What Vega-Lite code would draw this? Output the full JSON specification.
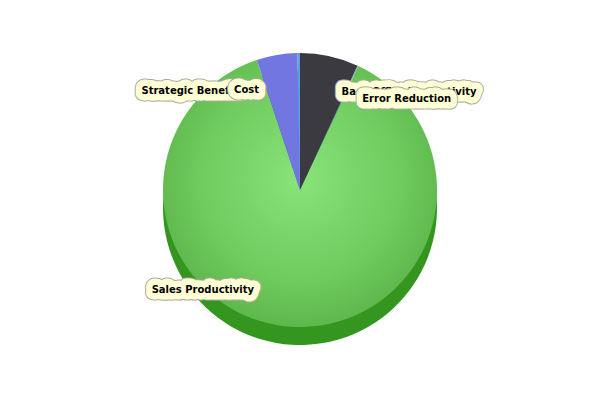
{
  "$schema": "https://vega.github.io/schema/vega-lite/v6.json",
  "width": 600,
  "height": 400,
  "autosize": {"type": "fit", "contains": "padding"},
  "padding": 0,
  "background": "white",
  "view": {"stroke": null},
  "data": {"values": [
    {"label": "Back Office Productivity", "value": 6.9, "k": 1},
    {"label": "Error Reduction", "value": 0.1, "k": 2},
    {"label": "Sales Productivity", "value": 87.9, "k": 3},
    {"label": "Strategic Benefits", "value": 4.8, "k": 4},
    {"label": "Cost", "value": 0.3, "k": 5}
  ]},
  "transform": [
    {"stack": "value", "groupby": [], "sort": [{"field": "k", "order": "ascending"}], "as": ["s0", "s1"]}
  ],
  "layer": [
    {
      "mark": {"type": "arc", "radius": 137, "yOffset": 8},
      "encoding": {
        "theta": {"field": "s0", "type": "quantitative", "scale": {"domain": [0, 100]}},
        "theta2": {"field": "s1"},
        "color": {
          "field": "label", "type": "nominal", "legend": null,
          "scale": {
            "domain": ["Back Office Productivity", "Error Reduction", "Sales Productivity", "Strategic Benefits", "Cost"],
            "range": ["#26262b", "#3d7fc0", "#35961f", "#4a4cb0", "#3d7fc0"]
          }
        }
      }
    },
    {
      "mark": {"type": "arc", "radius": 137, "yOffset": -10},
      "encoding": {
        "theta": {"field": "s0", "type": "quantitative", "scale": {"domain": [0, 100]}},
        "theta2": {"field": "s1"},
        "fill": {
          "condition": {
            "test": "datum.label === 'Sales Productivity'",
            "value": {
              "gradient": "radial",
              "x1": 0.5, "y1": 0.45, "r1": 0,
              "x2": 0.5, "y2": 0.45, "r2": 0.6,
              "stops": [
                {"offset": 0, "color": "#88e37a"},
                {"offset": 0.6, "color": "#70cc5e"},
                {"offset": 1, "color": "#58b046"}
              ]
            }
          },
          "field": "label", "type": "nominal", "legend": null,
          "scale": {
            "domain": ["Back Office Productivity", "Error Reduction", "Sales Productivity", "Strategic Benefits", "Cost"],
            "range": ["#3a3a40", "#5aa0e0", "#6cc95a", "#7176e0", "#5aa0e0"]
          }
        }
      }
    },
    {
      "transform": [{"filter": "datum.k == 1"}],
      "encoding": {
        "theta": {"field": "s0", "type": "quantitative", "scale": {"domain": [0, 100]}},
        "text": {"field": "label"}
      },
      "layer": [
        {"mark": {"type": "text", "radius": 100, "yOffset": -10, "thetaOffset": {"expr": "(datum.s1 - datum.s0) / 100 * PI"}, "align": {"expr": "(datum.s0 + datum.s1) / 2 < 50 ? 'left' : 'right'"}, "dx": {"expr": "(datum.s0 + datum.s1) / 2 < 50 ? 20 : -40"}, "font": "DejaVu Sans", "fontWeight": "bold", "fontSize": 10, "stroke": "#a8a8a0", "strokeWidth": 15, "strokeJoin": "round", "fill": "#a8a8a0"}},
        {"mark": {"type": "text", "radius": 100, "yOffset": -10, "thetaOffset": {"expr": "(datum.s1 - datum.s0) / 100 * PI"}, "align": {"expr": "(datum.s0 + datum.s1) / 2 < 50 ? 'left' : 'right'"}, "dx": {"expr": "(datum.s0 + datum.s1) / 2 < 50 ? 20 : -40"}, "font": "DejaVu Sans", "fontWeight": "bold", "fontSize": 10, "stroke": "#ffffd6", "strokeWidth": 13, "strokeJoin": "round", "fill": "#ffffd6"}},
        {"mark": {"type": "text", "radius": 100, "yOffset": -10, "thetaOffset": {"expr": "(datum.s1 - datum.s0) / 100 * PI"}, "align": {"expr": "(datum.s0 + datum.s1) / 2 < 50 ? 'left' : 'right'"}, "dx": {"expr": "(datum.s0 + datum.s1) / 2 < 50 ? 20 : -40"}, "font": "DejaVu Sans", "fontWeight": "bold", "fontSize": 10, "fill": "#000000"}}
      ]
    },
    {
      "transform": [{"filter": "datum.k == 2"}],
      "encoding": {
        "theta": {"field": "s0", "type": "quantitative", "scale": {"domain": [0, 100]}},
        "text": {"field": "label"}
      },
      "layer": [
        {"mark": {"type": "text", "radius": 100, "yOffset": -10, "thetaOffset": {"expr": "(datum.s1 - datum.s0) / 100 * PI"}, "align": {"expr": "(datum.s0 + datum.s1) / 2 < 50 ? 'left' : 'right'"}, "dx": {"expr": "(datum.s0 + datum.s1) / 2 < 50 ? 20 : -40"}, "font": "DejaVu Sans", "fontWeight": "bold", "fontSize": 10, "stroke": "#a8a8a0", "strokeWidth": 15, "strokeJoin": "round", "fill": "#a8a8a0"}},
        {"mark": {"type": "text", "radius": 100, "yOffset": -10, "thetaOffset": {"expr": "(datum.s1 - datum.s0) / 100 * PI"}, "align": {"expr": "(datum.s0 + datum.s1) / 2 < 50 ? 'left' : 'right'"}, "dx": {"expr": "(datum.s0 + datum.s1) / 2 < 50 ? 20 : -40"}, "font": "DejaVu Sans", "fontWeight": "bold", "fontSize": 10, "stroke": "#ffffd6", "strokeWidth": 13, "strokeJoin": "round", "fill": "#ffffd6"}},
        {"mark": {"type": "text", "radius": 100, "yOffset": -10, "thetaOffset": {"expr": "(datum.s1 - datum.s0) / 100 * PI"}, "align": {"expr": "(datum.s0 + datum.s1) / 2 < 50 ? 'left' : 'right'"}, "dx": {"expr": "(datum.s0 + datum.s1) / 2 < 50 ? 20 : -40"}, "font": "DejaVu Sans", "fontWeight": "bold", "fontSize": 10, "fill": "#000000"}}
      ]
    },
    {
      "transform": [{"filter": "datum.k == 3"}],
      "encoding": {
        "theta": {"field": "s0", "type": "quantitative", "scale": {"domain": [0, 100]}},
        "text": {"field": "label"}
      },
      "layer": [
        {"mark": {"type": "text", "radius": 100, "yOffset": -10, "thetaOffset": {"expr": "(datum.s1 - datum.s0) / 100 * PI"}, "align": {"expr": "(datum.s0 + datum.s1) / 2 < 50 ? 'left' : 'right'"}, "dx": {"expr": "(datum.s0 + datum.s1) / 2 < 50 ? 20 : -40"}, "font": "DejaVu Sans", "fontWeight": "bold", "fontSize": 10, "stroke": "#a8a8a0", "strokeWidth": 15, "strokeJoin": "round", "fill": "#a8a8a0"}},
        {"mark": {"type": "text", "radius": 100, "yOffset": -10, "thetaOffset": {"expr": "(datum.s1 - datum.s0) / 100 * PI"}, "align": {"expr": "(datum.s0 + datum.s1) / 2 < 50 ? 'left' : 'right'"}, "dx": {"expr": "(datum.s0 + datum.s1) / 2 < 50 ? 20 : -40"}, "font": "DejaVu Sans", "fontWeight": "bold", "fontSize": 10, "stroke": "#ffffd6", "strokeWidth": 13, "strokeJoin": "round", "fill": "#ffffd6"}},
        {"mark": {"type": "text", "radius": 100, "yOffset": -10, "thetaOffset": {"expr": "(datum.s1 - datum.s0) / 100 * PI"}, "align": {"expr": "(datum.s0 + datum.s1) / 2 < 50 ? 'left' : 'right'"}, "dx": {"expr": "(datum.s0 + datum.s1) / 2 < 50 ? 20 : -40"}, "font": "DejaVu Sans", "fontWeight": "bold", "fontSize": 10, "fill": "#000000"}}
      ]
    },
    {
      "transform": [{"filter": "datum.k == 4"}],
      "encoding": {
        "theta": {"field": "s0", "type": "quantitative", "scale": {"domain": [0, 100]}},
        "text": {"field": "label"}
      },
      "layer": [
        {"mark": {"type": "text", "radius": 100, "yOffset": -10, "thetaOffset": {"expr": "(datum.s1 - datum.s0) / 100 * PI"}, "align": {"expr": "(datum.s0 + datum.s1) / 2 < 50 ? 'left' : 'right'"}, "dx": {"expr": "(datum.s0 + datum.s1) / 2 < 50 ? 20 : -40"}, "font": "DejaVu Sans", "fontWeight": "bold", "fontSize": 10, "stroke": "#a8a8a0", "strokeWidth": 15, "strokeJoin": "round", "fill": "#a8a8a0"}},
        {"mark": {"type": "text", "radius": 100, "yOffset": -10, "thetaOffset": {"expr": "(datum.s1 - datum.s0) / 100 * PI"}, "align": {"expr": "(datum.s0 + datum.s1) / 2 < 50 ? 'left' : 'right'"}, "dx": {"expr": "(datum.s0 + datum.s1) / 2 < 50 ? 20 : -40"}, "font": "DejaVu Sans", "fontWeight": "bold", "fontSize": 10, "stroke": "#ffffd6", "strokeWidth": 13, "strokeJoin": "round", "fill": "#ffffd6"}},
        {"mark": {"type": "text", "radius": 100, "yOffset": -10, "thetaOffset": {"expr": "(datum.s1 - datum.s0) / 100 * PI"}, "align": {"expr": "(datum.s0 + datum.s1) / 2 < 50 ? 'left' : 'right'"}, "dx": {"expr": "(datum.s0 + datum.s1) / 2 < 50 ? 20 : -40"}, "font": "DejaVu Sans", "fontWeight": "bold", "fontSize": 10, "fill": "#000000"}}
      ]
    },
    {
      "transform": [{"filter": "datum.k == 5"}],
      "encoding": {
        "theta": {"field": "s0", "type": "quantitative", "scale": {"domain": [0, 100]}},
        "text": {"field": "label"}
      },
      "layer": [
        {"mark": {"type": "text", "radius": 100, "yOffset": -10, "thetaOffset": {"expr": "(datum.s1 - datum.s0) / 100 * PI"}, "align": {"expr": "(datum.s0 + datum.s1) / 2 < 50 ? 'left' : 'right'"}, "dx": {"expr": "(datum.s0 + datum.s1) / 2 < 50 ? 20 : -40"}, "font": "DejaVu Sans", "fontWeight": "bold", "fontSize": 10, "stroke": "#a8a8a0", "strokeWidth": 15, "strokeJoin": "round", "fill": "#a8a8a0"}},
        {"mark": {"type": "text", "radius": 100, "yOffset": -10, "thetaOffset": {"expr": "(datum.s1 - datum.s0) / 100 * PI"}, "align": {"expr": "(datum.s0 + datum.s1) / 2 < 50 ? 'left' : 'right'"}, "dx": {"expr": "(datum.s0 + datum.s1) / 2 < 50 ? 20 : -40"}, "font": "DejaVu Sans", "fontWeight": "bold", "fontSize": 10, "stroke": "#ffffd6", "strokeWidth": 13, "strokeJoin": "round", "fill": "#ffffd6"}},
        {"mark": {"type": "text", "radius": 100, "yOffset": -10, "thetaOffset": {"expr": "(datum.s1 - datum.s0) / 100 * PI"}, "align": {"expr": "(datum.s0 + datum.s1) / 2 < 50 ? 'left' : 'right'"}, "dx": {"expr": "(datum.s0 + datum.s1) / 2 < 50 ? 20 : -40"}, "font": "DejaVu Sans", "fontWeight": "bold", "fontSize": 10, "fill": "#000000"}}
      ]
    }
  ],
  "resolve": {"scale": {"color": "independent", "fill": "independent"}}
}
